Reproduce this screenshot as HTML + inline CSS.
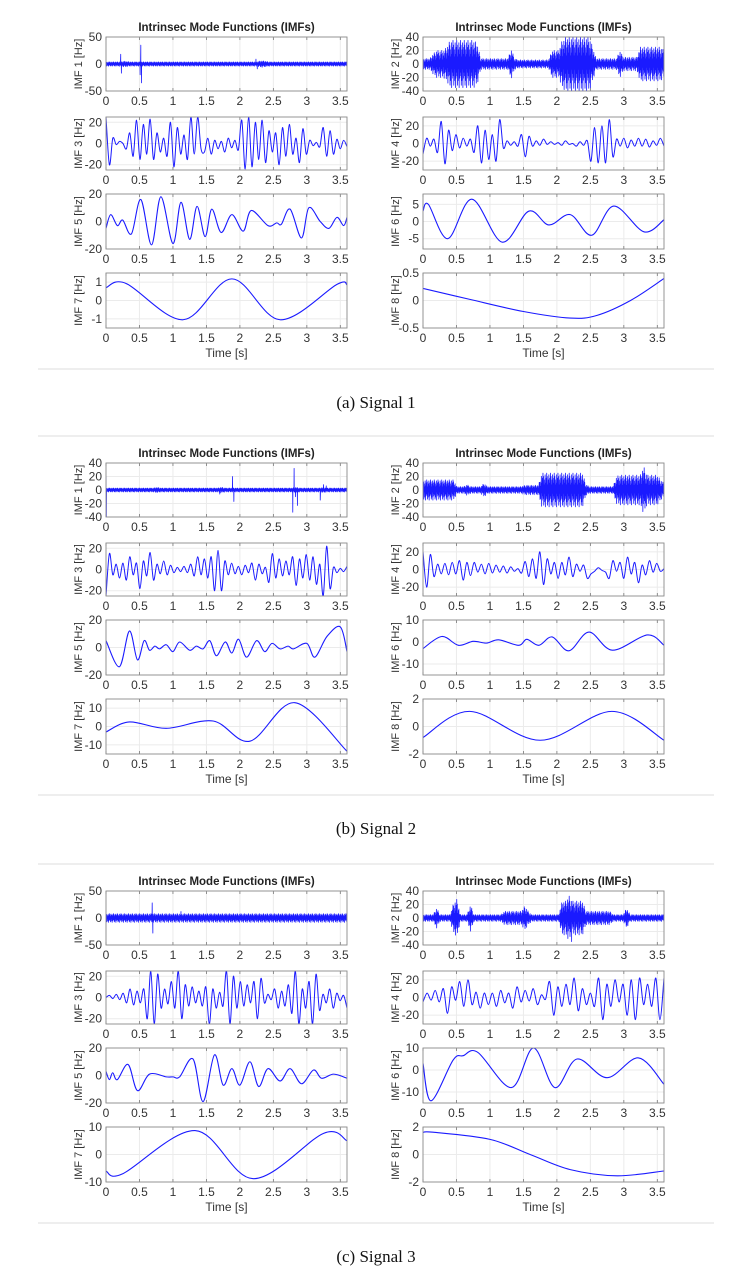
<!DOCTYPE html>
<html><head><meta charset="utf-8"><style>
html,body{margin:0;padding:0;background:#fff}
svg{display:block}
text{font-family:"Liberation Sans",Arial,sans-serif}
</style></head><body>
<svg id="fig" width="752" height="1270" viewBox="0 0 752 1270" xmlns="http://www.w3.org/2000/svg"></svg>
<script>
// ---------- data (times in s, values in Hz) ----------
const xTicks = [0,0.5,1,1.5,2,2.5,3,3.5];
const captions = ["(a) Signal 1","(b) Signal 2","(c) Signal 3"];

// Signal 1
const a1Env = [4,4,4,4,4,5,5,4,4,4,4,4,4,4,4,4,4,4,4,4,4,4,4,4,4,4,4,4,4,4,4,4,4,4,4,4,4,4,4,4,4,4,4,4,4,5,6,5,4,4,4,4,4,4,4,4,4,4,4,4,4,4,4,4,4,4,4,4,4,4,4,4];
const a1SpikeT = [0.22,0.23,0.51,0.52,0.53,2.24,2.26];
const a1SpikeV = [18,-17,-20,35,-35,9,-9];
const a2Env = [8,8,8,15,20,20,20,25,35,35,35,35,35,35,35,35,30,8,8,8,8,8,8,8,8,8,22,8,6,6,6,6,6,6,6,6,6,6,20,20,20,35,40,40,40,40,40,40,40,40,25,8,8,8,8,8,8,8,20,10,10,10,10,10,25,25,25,25,25,25,25,20];
const a2SpikeT = []; const a2SpikeV = [];
const a3 = [25,-20,5,-1,2,0,-5,10,-12,22,-15,18,-10,23,-15,10,-8,5,-12,20,-22,15,-10,8,-15,25,-10,25,-5,-8,5,-10,3,-5,2,-8,5,-4,3,-6,22,-24,25,-22,20,-15,22,-18,12,-8,10,-20,15,-12,18,-10,5,-18,14,-10,3,-2,1,-3,15,-12,12,-10,4,-5,3,-3];
const a4 = [-12,6,-3,5,-10,25,-23,15,-8,10,-5,6,-3,5,-10,20,-22,15,-18,10,-20,27,-5,3,-2,2,-3,10,-15,8,-3,3,-2,5,-1,2,-1,1,-2,3,-1,0,-3,2,-2,3,-20,18,-22,20,-22,27,-15,5,-3,6,-5,4,-3,6,-3,5,-4,3,-2,6,-3];
const a5T = [0,0.07,0.17,0.25,0.38,0.52,0.68,0.82,1.0,1.12,1.25,1.36,1.48,1.58,1.72,1.88,2.05,2.17,2.42,2.55,2.62,2.75,2.92,3.03,3.2,3.33,3.45,3.55,3.6];
const a5V = [-5,5,-3,1,-9,16,-17,18,-16,14,-13,11,-11,9,-8,5,-7,8,-3,-1,-2,9,-12,10,0,-5,3,-3,3];
const a6T = [0,0.08,0.37,0.73,1.18,1.58,1.88,2.2,2.52,2.85,3.3,3.6];
const a6V = [3,5,-5,6.5,-6,3,-1,2,-4,4.5,-3,0.5];
const a7T = [0,0.3,1.15,1.88,2.6,3.45,3.6];
const a7V = [0.7,0.93,-1.05,1.18,-1.05,0.88,0.85];
const a8T = [0,0.7,1.5,2.2,2.6,3.1,3.6];
const a8V = [0.22,0.02,-0.2,-0.32,-0.27,0.0,0.4];

// Signal 2
const b1Env = [3,3,3,3,3,3,3,3,3,3,3,3,3,3,3,4,3,3,3,3,3,3,3,3,3,3,3,3,3,3,3,3,3,3,4,3,3,3,3,3,3,3,3,3,3,3,3,3,3,3,3,3,3,3,3,3,4,3,3,3,3,3,3,3,4,3,3,3,3,3,3,3];
const b1SpikeT = [0.0,0.005,1.70,1.89,1.91,2.79,2.81,2.83,2.86,3.20,3.25,3.29];
const b1SpikeV = [20,-40,-6,20,-17,-33,32,-10,-23,-15,8,6];
const b2Env = [15,15,15,15,15,15,15,15,15,15,5,5,5,8,5,5,5,5,10,5,5,5,5,5,5,5,5,5,5,5,7,7,7,7,7,25,25,25,25,25,25,25,25,25,25,25,25,25,8,5,5,5,5,5,5,5,5,20,22,22,22,22,22,22,22,35,22,22,22,22,15,10];
const b2SpikeT = []; const b2SpikeV = [];
const b3 = [-25,15,-5,5,-8,6,-10,12,-5,6,-18,8,-6,16,-10,5,-4,8,-5,4,-3,2,-2,3,-3,5,-6,12,-5,10,-8,12,-20,18,-20,8,-5,6,-4,3,-5,4,-3,6,-10,5,-4,2,-12,15,-8,10,-6,8,-5,12,-15,10,-8,14,-10,12,-14,5,-25,22,-18,2,-3,1,-2,3];
const b4 = [20,-20,17,-8,6,-5,7,-6,8,-5,10,-12,8,-7,8,-3,6,-5,7,-4,5,-3,4,-4,3,-2,1,-4,9,-8,12,-10,20,-17,12,-5,8,-10,8,-6,14,-8,6,-2,5,-10,-5,-2,2,-1,-3,-10,10,-2,8,-10,14,-5,8,-15,5,-6,10,-3,7,-2,1];
const b5T = [0,0.2,0.35,0.47,0.57,0.65,0.73,0.8,0.9,1.0,1.1,1.25,1.35,1.45,1.55,1.65,1.78,1.88,1.98,2.1,2.25,2.37,2.48,2.6,2.72,2.8,3.0,3.12,3.3,3.5,3.6];
const b5V = [5,-14,12,-9,5,-2,1,-1,2,-3,4,-2,1,-1,5,-6,4,-4,6,-7,5,-3,3,-1,1,-1,3,-7,8,15,-3];
const b6T = [0,0.28,0.53,0.75,0.95,1.13,1.43,1.55,1.73,1.93,2.18,2.48,2.83,3.35,3.6];
const b6V = [-3,2.5,-1.5,0.3,-0.5,1,-1.5,1.2,-1.5,2.3,-4,4.5,-3.7,3.2,-1.5];
const b7T = [0,0.35,0.9,1.6,2.15,2.82,3.6];
const b7V = [-3,2.5,-1,3,-8,13,-13.5];
const b8T = [0,0.7,1.75,2.82,3.6];
const b8V = [-0.8,1.1,-1,1.1,-1];

// Signal 3
const c1Env = [8,8,8,8,8,8,8,8,8,8,8,8,8,8,8,8,8,8,8,8,8,8,8,8,8,8,8,8,8,8,8,8,8,8,8,8,8,8,8,8,8,8,8,8,8,8,8,8,8,8,8,8,8,8,8,8,8,8,8,8,8,8,8,8,8,8,8,8,8,8,8,8];
const c1SpikeT = [0.69,0.70,1.12];
const c1SpikeV = [28,-28,12];
const c2Env = [5,5,5,5,15,5,5,5,5,22,28,5,5,5,20,5,5,5,5,5,5,5,5,5,10,10,10,10,10,10,18,10,5,5,5,5,5,5,5,5,5,25,25,33,25,25,25,25,10,10,10,10,10,10,10,10,5,5,5,5,15,5,5,5,5,5,5,5,5,5,5,5];
const c2SpikeT = [2.22]; const c2SpikeV = [-35];
const c3 = [0,2,-1,3,-2,4,-5,8,-7,6,-5,8,-20,25,-25,22,-10,8,-6,15,-10,25,-20,12,-8,10,-5,6,-8,10,-25,8,-10,5,-8,25,-25,20,-10,15,-8,12,-5,15,-20,18,-5,3,-2,8,-10,6,-8,12,-15,25,-25,8,-10,15,-25,22,-12,3,-5,8,-10,4,-3,2,-10];
const c4 = [-5,5,-3,8,-5,10,-18,12,-3,18,-10,20,-8,6,-12,5,-8,5,-10,8,-6,5,-12,12,-5,8,-4,10,-8,3,-2,18,-20,12,-10,15,-8,22,-15,10,-8,5,-10,22,-25,15,-10,20,-5,15,-20,20,-25,22,-8,15,-10,22,-25,22];
const c5T = [0,0.05,0.1,0.17,0.33,0.47,0.65,0.9,1.0,1.1,1.3,1.45,1.62,1.75,1.88,2.0,2.15,2.28,2.42,2.6,2.75,2.92,3.1,3.22,3.4,3.6];
const c5V = [3,-3,2,-3,8,-11,1,-1,-1,-1,12,-19,15,-7,5,-7,10,-8,5,-4,5,-6,4,-2,1,-2];
const c6T = [0,0.12,0.45,0.6,0.82,1.32,1.65,1.97,2.3,2.75,3.22,3.6];
const c6V = [3,-14,4.5,6.5,8,-8,10,-8,5,-3.5,5.5,-6.5];
const c7T = [0,0.25,1.33,2.2,3.25,3.6];
const c7V = [-6,-7,8.7,-8.8,7.7,5];
const c8T = [0,0.15,1.0,1.6,2.2,2.9,3.6];
const c8V = [1.6,1.62,1.1,0,-1.1,-1.55,-1.2];

// Axis limits / y tick labels
const yLim = [
 [[-50,50],[-40,40],[-25,25],[-30,30],[-20,20],[-8,8],[-1.5,1.5],[-0.5,0.5]],
 [[-40,40],[-40,40],[-25,25],[-30,30],[-20,20],[-15,10],[-15,15],[-2,2]],
 [[-50,50],[-40,40],[-25,25],[-30,30],[-20,20],[-15,10],[-10,10],[-2,2]]
];
const yTicks = [
 [[-50,0,50],[-40,-20,0,20,40],[-20,0,20],[-20,0,20],[-20,0,20],[-5,0,5],[-1,0,1],[-0.5,0,0.5]],
 [[-40,-20,0,20,40],[-40,-20,0,20,40],[-20,0,20],[-20,0,20],[-20,0,20],[-10,0,10],[-10,0,10],[-2,0,2]],
 [[-50,0,50],[-40,-20,0,20,40],[-20,0,20],[-20,0,20],[-20,0,20],[-10,0,10],[-10,0,10],[-2,0,2]]
];
const series = [
 [{env:a1Env,st:a1SpikeT,sv:a1SpikeV},{env:a2Env,st:a2SpikeT,sv:a2SpikeV},{seq:a3},{seq:a4},{t:a5T,v:a5V},{t:a6T,v:a6V},{t:a7T,v:a7V},{t:a8T,v:a8V}],
 [{env:b1Env,st:b1SpikeT,sv:b1SpikeV},{env:b2Env,st:b2SpikeT,sv:b2SpikeV},{seq:b3},{seq:b4},{t:b5T,v:b5V},{t:b6T,v:b6V},{t:b7T,v:b7V},{t:b8T,v:b8V}],
 [{env:c1Env,st:c1SpikeT,sv:c1SpikeV},{env:c2Env,st:c2SpikeT,sv:c2SpikeV},{seq:c3},{seq:c4},{t:c5T,v:c5V},{t:c6T,v:c6V},{t:c7T,v:c7V},{t:c8T,v:c8V}]
];

// ---------- layout ----------
const NS = "http://www.w3.org/2000/svg";
const svg = document.getElementById('fig');
const panelOff = [0,426,854];
const rowY = [[37,91],[117,170],[194,249],[273,328]];
const colX = [[106,347],[423,664]];
const T0 = 0, T1 = 3.6;
const zig = [1,-0.5,0.8,-0.9,0.3,-0.7,0.6,-0.2,0.9,-1,0.4,-0.6,0.7,-0.35];

function el(tag, attrs, parent){
  const e = document.createElementNS(NS, tag);
  for (const k in attrs) e.setAttribute(k, attrs[k]);
  (parent||svg).appendChild(e);
  return e;
}
function catmull(pts){
  if (pts.length < 2) return '';
  let d = 'M'+pts[0][0].toFixed(2)+','+pts[0][1].toFixed(2);
  for (let i=0;i<pts.length-1;i++){
    const p0 = pts[Math.max(0,i-1)], p1 = pts[i], p2 = pts[i+1], p3 = pts[Math.min(pts.length-1,i+2)];
    const c1x = p1[0]+(p2[0]-p0[0])/6, c1y = p1[1]+(p2[1]-p0[1])/6;
    const c2x = p2[0]-(p3[0]-p1[0])/6, c2y = p2[1]-(p3[1]-p1[1])/6;
    d += 'C'+c1x.toFixed(2)+','+c1y.toFixed(2)+' '+c2x.toFixed(2)+','+c2y.toFixed(2)+' '+p2[0].toFixed(2)+','+p2[1].toFixed(2);
  }
  return d;
}

let clipId = 0;
for (let p=0;p<3;p++){
  const off = panelOff[p];
  if (p>0){
    const s = el('line',{x1:38,x2:714,y1:off+10,y2:off+10,stroke:'#dcdcdc','stroke-width':1});
    
    
  }
  const sb = el('line',{x1:38,x2:714,y1:off+369,y2:off+369,stroke:'#dcdcdc','stroke-width':1});
  
  
  const cap = el('text',{x:376,y:off+408,'text-anchor':'middle','font-size':'17px',fill:'#111',style:'font-family:"Liberation Serif",serif'});
  cap.textContent = captions[p];
  
  

  for (let c=0;c<2;c++){
    const [L,R] = colX[c];
    const tt = el('text',{x:(L+R)/2,y:off+31,'text-anchor':'middle','font-size':'11.5px','font-weight':'bold',fill:'#222'});
    tt.textContent = 'Intrinsec Mode Functions (IMFs)';
    
    
    const xl = el('text',{x:(L+R)/2,y:off+357,'text-anchor':'middle','font-size':'12px',fill:'#333'});
    xl.textContent = 'Time [s]';
    
    

    for (let r=0;r<4;r++){
      const k = r*2+c;
      const [Tp,Bt] = rowY[r];
      const top = Tp+off, bot = Bt+off;
      const [y0,y1] = yLim[p][k];
      const sx = t => L + (t-T0)/(T1-T0)*(R-L);
      const sy = v => bot - (v-y0)/(y1-y0)*(bot-top);
      const g = el('g',{});
      
      
      el('rect',{x:L,y:top,width:R-L,height:bot-top,fill:'#fff'},g);
      xTicks.forEach(t=>{
        el('line',{x1:sx(t),x2:sx(t),y1:top,y2:bot,stroke:'#ebebeb','stroke-width':1},g);
        el('line',{x1:sx(t),x2:sx(t),y1:bot,y2:bot-3,stroke:'#777','stroke-width':0.8},g);
        el('line',{x1:sx(t),x2:sx(t),y1:top,y2:top+3,stroke:'#777','stroke-width':0.8},g);
        const lb = el('text',{x:sx(t),y:bot+14,'text-anchor':'middle','font-size':'12px',fill:'#333'},g);
        lb.textContent = String(t);
        
        
      });
      yTicks[p][k].forEach(v=>{
        el('line',{x1:L,x2:R,y1:sy(v),y2:sy(v),stroke:'#ebebeb','stroke-width':1},g);
        const lb = el('text',{x:L-4,y:sy(v)+4,'text-anchor':'end','font-size':'12px',fill:'#333'},g);
        lb.textContent = String(v);
        
        
      });
      const yl = el('text',{x:0,y:0,'text-anchor':'middle','font-size':'11px',fill:'#333',transform:'translate('+(L-24)+','+((top+bot)/2)+') rotate(-90)'},g);
      yl.textContent = 'IMF '+(k+1)+' [Hz]';
      
      
      const cid = 'clip'+(clipId++);
      const cp = el('clipPath',{id:cid},g);
      el('rect',{x:L,y:top,width:R-L,height:bot-top},cp);
      const s = series[p][k];
      let d = '';
      let sw = 1.1;
      if (s.env){
        const pts = [];
        const n = 900;
        const extra = s.st.map((t,i)=>[t,s.sv[i]]);
        let ei = 0;
        for (let i=0;i<=n;i++){
          const t = T0 + i/n*(T1-T0);
          while (ei<extra.length && extra[ei][0] <= t){ pts.push([sx(extra[ei][0]),sy(extra[ei][1])]); ei++; }
          const f = t/(T1-T0)*(s.env.length-1);
          const i0 = Math.min(s.env.length-2,Math.floor(f));
          const a = s.env[i0] + (s.env[i0+1]-s.env[i0])*(f-i0);
          pts.push([sx(t),sy(a*zig[i%zig.length])]);
        }
        d = 'M'+pts.map(q=>q[0].toFixed(2)+','+q[1].toFixed(2)).join('L');
        sw = 0.8;
      } else if (s.seq){
        const pts = s.seq.map((v,i)=>[sx(T0+i/(s.seq.length-1)*(T1-T0)),sy(v)]);
        d = catmull(pts);
        sw = 1;
      } else {
        const pts = s.t.map((t,i)=>[sx(t),sy(s.v[i])]);
        d = catmull(pts);
      }
      const path = el('path',{d:d,fill:'none',stroke:'#1a1aff','stroke-width':sw,'stroke-linejoin':'round','clip-path':'url(#'+cid+')'},g);
      
      
      el('rect',{x:L,y:top,width:R-L,height:bot-top,fill:'none',stroke:'#8a8a8a','stroke-width':0.9},g);
    }
  }
}
</script>
</body></html>
